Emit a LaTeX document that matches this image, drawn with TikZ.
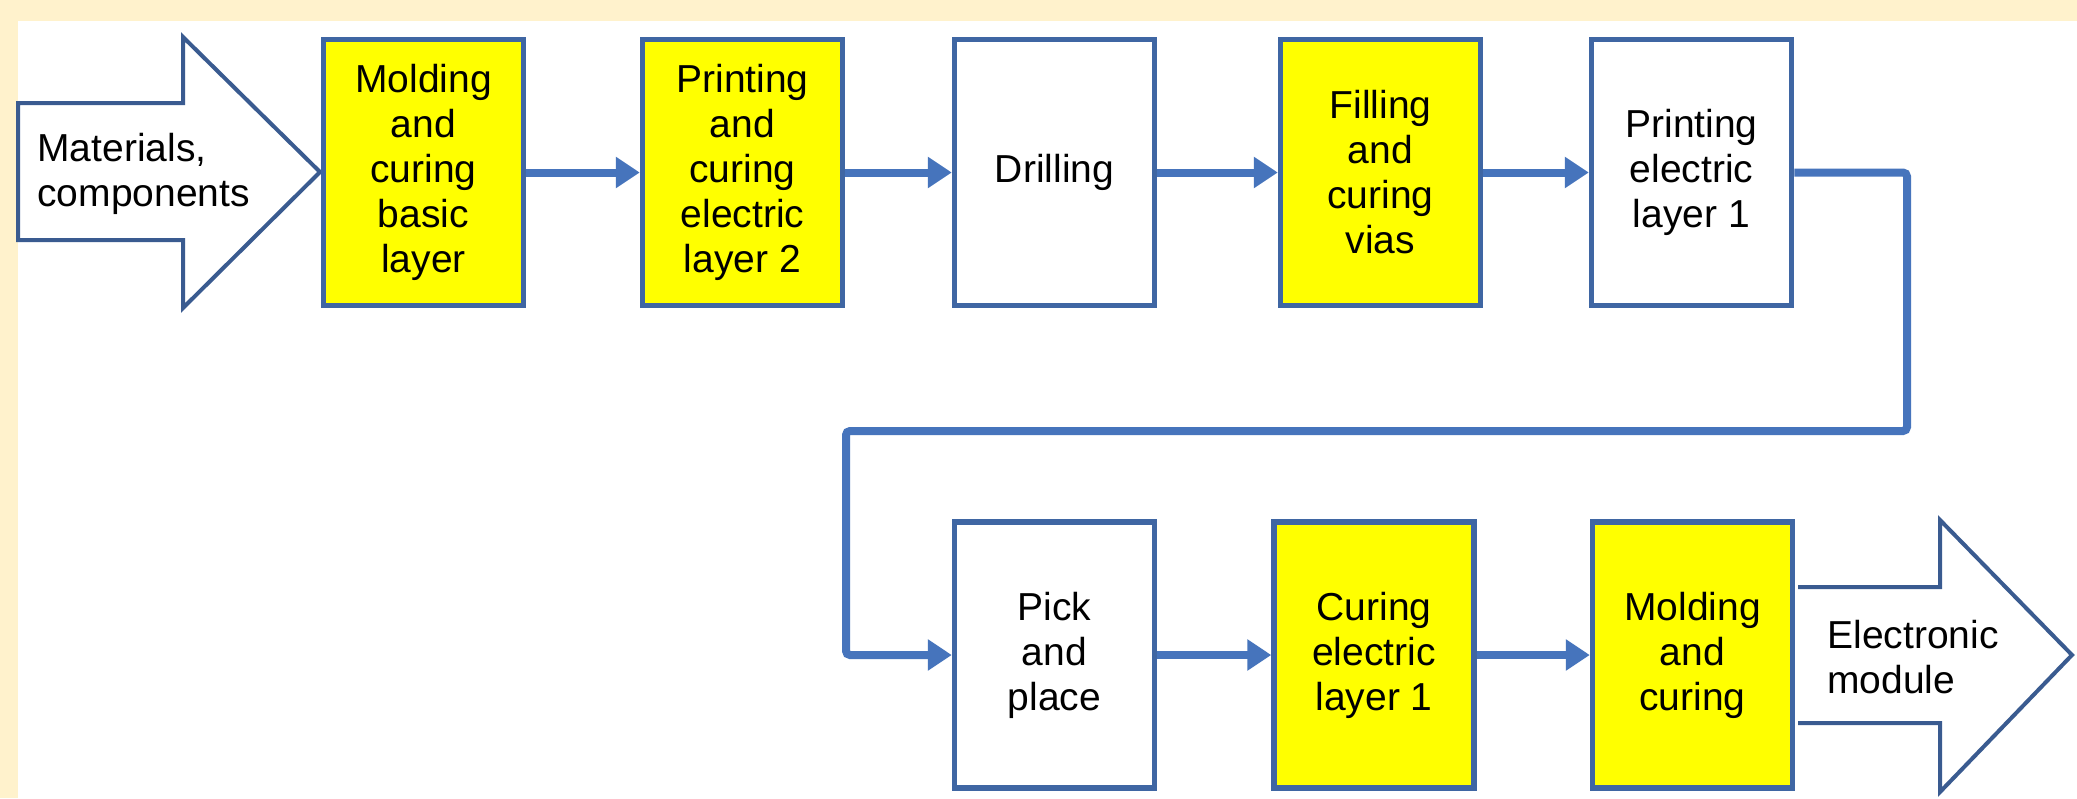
\documentclass[tikz,border=0pt]{standalone}
\usepackage{fontspec}
\setmainfont{Liberation Sans}
\usetikzlibrary{arrows.meta}
\definecolor{cream}{HTML}{FFF2CC}
\definecolor{boxblue}{HTML}{3F66A3}
\definecolor{linkblue}{HTML}{4674BC}
\definecolor{bigblue}{HTML}{3A5B90}
\definecolor{boxyellow}{HTML}{FFFF00}
\begin{document}
\begin{tikzpicture}[x=0.5pt,y=-0.5pt,
  stepbox/.style={draw=boxblue, line width=2.75pt, minimum width=100pt, minimum height=133pt,
    inner sep=0pt, align=center, font=\fontsize{19.5pt}{22.5pt}\selectfont},
  hot/.style={stepbox, fill=boxyellow},
  cold/.style={stepbox, fill=white},
  link/.style={draw=linkblue, line width=4pt, rounded corners=2pt,
    -{Triangle[length=12pt,width=15pt]}},
  bigarrow/.style={draw=bigblue, line width=2pt, fill=white, line join=miter},
  bigtext/.style={align=left, inner sep=0pt, anchor=west, font=\fontsize{19.5pt}{22.5pt}\selectfont}
]
\useasboundingbox (0,0) rectangle (2077,798);
\fill[cream] (0,0) rectangle (2077,798);
\fill[white] (18,21) rectangle (2077,798);

% input arrow
\draw[bigarrow] (18,103) -- (183,103) -- (183,37) -- (320,172) -- (183,308) -- (183,240) -- (18,240) -- cycle;
\node[bigtext] (inp) at (37,174) {Materials,\\components};

% top row
\node[hot]  (b1) at (423.5,172.5) {Molding\\and\\curing\\basic\\layer};
\node[hot]  (b2) at (742.5,172.5) {Printing\\and\\curing\\electric\\layer 2};
\node[cold] (b3) at (1054.5,172.5) {Drilling};
\node[hot]  (b4) at (1380.5,172.5) {Filling\\and\\curing\\vias};
\node[cold] (b5) at (1691.5,172.5) {Printing\\electric\\layer 1};

% bottom row
\node[cold] (b6) at (1054.5,655) {Pick\\and\\place};
\node[hot]  (b7) at (1374,655) {Curing\\electric\\layer 1};
\node[hot]  (b8) at (1692.5,655) {Molding\\and\\curing};

% output arrow
\draw[bigarrow] (1798,587) -- (1940,587) -- (1940,520) -- (2072,655) -- (1940,792) -- (1940,723) -- (1798,723);
\node[bigtext] (out) at (1827,657) {Electronic\\module};

% connectors
\draw[link] (b1.east) -- (b2.west);
\draw[link] (b2.east) -- (b3.west);
\draw[link] (b3.east) -- (b4.west);
\draw[link] (b4.east) -- (b5.west);
\coordinate (c1) at (1907,172.5);
\coordinate (c2) at (1907,431);
\coordinate (c3) at (846,431);
\coordinate (c4) at (846,655);
\draw[link] (b5.east) -- (c1) -- (c2) -- (c3) -- (c4) -- (b6.west);
\draw[link] (b6.east) -- (b7.west);
\draw[link] (b7.east) -- (b8.west);
\end{tikzpicture}
\end{document}
